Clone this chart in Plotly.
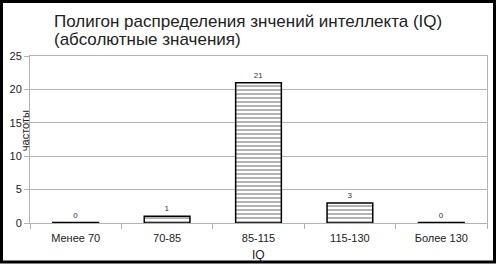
import plotly.graph_objects as go

categories = ["Менее 70", "70-85", "85-115", "115-130", "Более 130"]
counts = [0, 1, 21, 3, 0]
y_ticks = [0, 5, 10, 15, 20, 25]
title_lines = ["Полигон распределения знчений интеллекта (IQ)", "(абсолютные значения)"]

W, H = 496, 264
ML, MR, MT, MB = 30, 9, 56, 41
PW, PH = W - ML - MR, H - MT - MB


def py(pix):
    """pixel row from top -> paper y"""
    return (H - MB - pix) / PH


# zero-valued bars are drawn by the original as a flat line on the axis
shown = [c if c > 0 else 0.07 for c in counts]

fig = go.Figure(go.Bar(
    x=categories, y=shown, width=0.5,
    text=[str(c) for c in counts], textposition="outside",
    textfont=dict(size=8, color="#333344", family="Liberation Sans"),
    cliponaxis=False,
    marker=dict(color="white",
                line=dict(color="black", width=1.5),
                pattern=dict(shape="-", fgcolor="black", bgcolor="white",
                             size=4, solidity=0.3)),
))

annotations = [
    dict(text="частоты", textangle=-90, showarrow=False,
         xref="paper", yref="paper", x=-5 / PW, y=0.55,
         xanchor="center", yanchor="middle",
         font=dict(size=11, color="#222")),
    dict(text="IQ", showarrow=False,
         xref="paper", yref="paper", x=0.5, y=py(254.5),
         xanchor="center", yanchor="middle",
         font=dict(size=12, color="#222")),
]
for line, ypix in zip(title_lines, [21, 39.5]):
    annotations.append(dict(text=line, showarrow=False,
                            xref="paper", yref="paper", x=(52 - ML) / PW, y=py(ypix),
                            xanchor="left", yanchor="middle",
                            font=dict(size=17, color="#222")))

fig.update_layout(
    width=W, height=H,
    margin=dict(l=ML, r=MR, t=MT, b=MB, autoexpand=False),
    paper_bgcolor="white", plot_bgcolor="white",
    font=dict(family="Liberation Sans, Arial", color="#222"),
    showlegend=False,
    uniformtext=dict(minsize=8, mode="show"),
    xaxis=dict(tickfont=dict(size=11, color="#222"), tickson="boundaries",
               ticks="outside", ticklen=5, tickcolor="#b3b3b3",
               ticklabelstandoff=5, automargin=False,
               showline=True, linecolor="#b3b3b3", linewidth=1, mirror=True),
    yaxis=dict(range=[0, 25], tickvals=y_ticks, tickfont=dict(size=11, color="#222"),
               ticks="outside", ticklen=5, tickcolor="#b3b3b3", automargin=False,
               showgrid=True, gridcolor="#b3b3b3", gridwidth=1,
               showline=True, linecolor="#b3b3b3", linewidth=1, mirror=True,
               zeroline=False),
    annotations=annotations,
    shapes=[dict(type="rect", xref="paper", yref="paper",
                 x0=(1.5 - ML) / PW, x1=(W - 1.5 - ML) / PW,
                 y0=py(H - 2), y1=py(1.5),
                 line=dict(color="black", width=3), layer="above")],
)

fig.write_html("out.html")
